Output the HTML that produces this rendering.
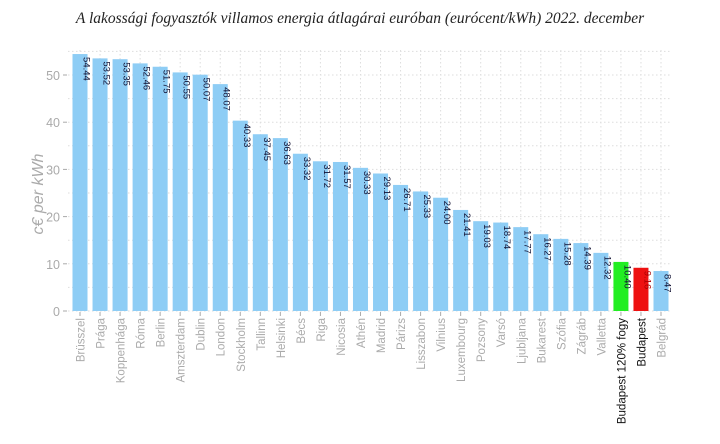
<!DOCTYPE html>
<html><head><meta charset="utf-8"><style>
body{margin:0;background:#fff;width:720px;height:444px;overflow:hidden}
svg{display:block}
</style></head><body>
<svg id="chart" width="720" height="444" font-family="Liberation Sans, sans-serif">
<text x="360" y="23" text-anchor="middle" font-family="Liberation Serif, serif" font-style="italic" font-size="15.5" fill="#222">A lakossági fogyasztók villamos energia átlagárai euróban (eurócent/kWh) 2022. december</text>
<text transform="translate(43,194) rotate(-90)" text-anchor="middle" font-size="16" font-style="italic" fill="#aaa">c€ per kWh</text>
<g id="grid"></g><g id="bars"></g><g id="axes"></g>
</svg>
<script>
const categories=["Brüsszel","Prága","Koppenhága","Róma","Berlin","Amszterdam","Dublin","London","Stockholm","Tallinn","Helsinki","Bécs","Riga","Nicosia","Athén","Madrid","Párizs","Lisszabon","Vilnius","Luxembourg","Pozsony","Varsó","Ljubljana","Bukarest","Szófia","Zágráb","Valletta","Budapest 120% fogy","Budapest","Belgrád"];
const values=[54.44,53.52,53.35,52.46,51.75,50.55,50.07,48.07,40.33,37.45,36.63,33.32,31.72,31.57,30.33,29.13,26.71,25.33,24.00,21.41,19.03,18.74,17.77,16.27,15.28,14.39,12.32,10.40,9.16,8.47];
const labels=["54.44","53.52","53.35","52.46","51.75","50.55","50.07","48.07","40.33","37.45","36.63","33.32","31.72","31.57","30.33","29.13","26.71","25.33","24.00","21.41","19.03","18.74","17.77","16.27","15.28","14.39","12.32","10.40","9.16","8.47"];
const yTicks=[0,10,20,30,40,50];
const NS="http://www.w3.org/2000/svg";
const x0=80,step=(661-80)/(categories.length-1),bw=15;
const y=v=>311-v*4.72;
const xc=i=>x0+i*step;
function mk(t,a,p){const e=document.createElementNS(NS,t);for(const k in a)e.setAttribute(k,a[k]);p.appendChild(e);return e;}
const grid=document.getElementById('grid'),bars=document.getElementById('bars'),axes=document.getElementById('axes');
for(let v=0;v<=55;v+=5){const l=mk('line',{x1:68,x2:672,y1:y(v),y2:y(v),stroke:'#ddd','stroke-dasharray':'1.5,2.5'},grid);}
categories.forEach((c,i)=>{const l=mk('line',{x1:xc(i),x2:xc(i),y1:50,y2:311,stroke:'#ddd','stroke-dasharray':'1.5,2.5'},grid);});
yTicks.forEach(v=>{const t=mk('text',{x:60,y:y(v)+5,'text-anchor':'end','font-size':'12.5',fill:'#aaa'},axes);t.textContent=v;
mk('line',{x1:63,x2:67,y1:y(v),y2:y(v),stroke:'#aaa'},axes);});
categories.forEach((c,i)=>{
 const col=i===27?'#22ee22':i===28?'#ee1111':'#8ecdf5';
 const r=mk('rect',{x:xc(i)-bw/2,y:y(values[i]),width:bw,height:y(0)-y(values[i]),fill:col},bars);
 
 
 const t=mk('text',{transform:`translate(${xc(i)+3.5},${y(values[i])+3}) rotate(90)`,'font-size':'9.5',fill:i===28?'#a00':'#113'},bars);
 t.textContent=labels[i];
 
 
 mk('line',{x1:xc(i),x2:xc(i),y1:312,y2:316,stroke:'#aaa'},axes);
 const a=mk('text',{transform:`translate(${xc(i)+4.5},318) rotate(-90)`,'text-anchor':'end','font-size':'11.5',fill:(i===27||i===28)?'#111':'#aaa'},axes);
 a.textContent=c;
 
 
});
</script>
</body></html>
